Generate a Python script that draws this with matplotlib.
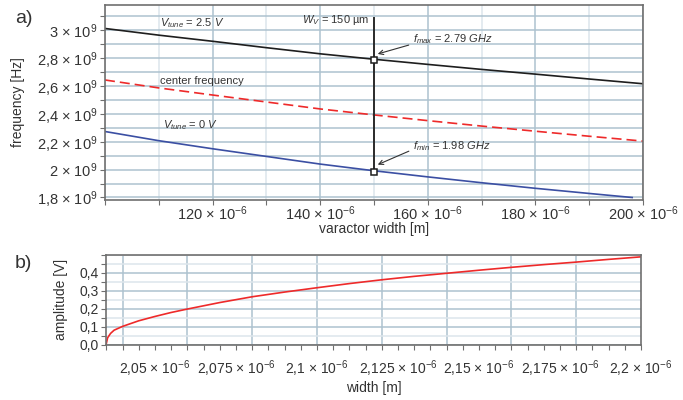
import matplotlib
matplotlib.use("Agg")
import matplotlib.pyplot as plt
from matplotlib.ticker import FixedLocator, FixedFormatter, MultipleLocator

plt.rcParams['font.family'] = ['Liberation Sans', 'DejaVu Sans']
plt.rcParams['mathtext.fontset'] = 'custom'
plt.rcParams['mathtext.rm'] = 'Liberation Sans'
plt.rcParams['mathtext.it'] = 'Liberation Sans:italic'
plt.rcParams['mathtext.bf'] = 'Liberation Sans:bold'

# --- data (a): tuning range vs varactor width, widths in um, freq in GHz
width_um = [100, 110, 120, 130, 140, 150, 160, 170, 180, 190, 200]
f_tune25 = [3.014, 2.966, 2.922, 2.876, 2.832, 2.793, 2.756, 2.720, 2.686, 2.651, 2.617]
f_center = [2.644, 2.587, 2.536, 2.486, 2.436, 2.393, 2.352, 2.313, 2.276, 2.240, 2.205]
width_tune0_um = [100, 110, 120, 130, 140, 150, 160, 170, 180, 190, 198]
f_tune0 = [2.274, 2.208, 2.150, 2.095, 2.040, 1.992, 1.948, 1.906, 1.866, 1.829, 1.800]

wv_um = 150
f_max = 2.79
f_min = 1.98
wv_line_top = 3.09

a_xticks = [120, 140, 160, 180, 200]
a_xlabels = ["120 × 10$^{-6}$", "140 × 10$^{-6}$", "160 × 10$^{-6}$",
             "180 × 10$^{-6}$", "200 × 10$^{-6}$"]
a_yticks = [1.8, 2.0, 2.2, 2.4, 2.6, 2.8, 3.0]
a_ylabels = ["1,8 × 10$^{9}$", "2 × 10$^{9}$", "2,2 × 10$^{9}$", "2,4 × 10$^{9}$",
             "2,6 × 10$^{9}$", "2,8 × 10$^{9}$", "3 × 10$^{9}$"]

# --- data (b): amplitude vs width, width in um
amp_width_um = [2.0349, 2.0354, 2.0363, 2.0374, 2.040, 2.045, 2.050, 2.055, 2.060,
                2.070, 2.080, 2.090, 2.100, 2.110, 2.120, 2.130, 2.140, 2.150,
                2.160, 2.170, 2.180, 2.190, 2.200]
amp_v = [0.0, 0.040, 0.064, 0.082, 0.103, 0.134, 0.158, 0.180, 0.199,
         0.235, 0.267, 0.293, 0.317, 0.340, 0.361, 0.380, 0.397, 0.414,
         0.430, 0.445, 0.459, 0.474, 0.488]

b_xticks = [2.05, 2.075, 2.1, 2.125, 2.15, 2.175, 2.2]
b_xlabels = ["2,05 × 10$^{-6}$", "2,075 × 10$^{-6}$", "2,1 × 10$^{-6}$",
             "2,125 × 10$^{-6}$", "2,15 × 10$^{-6}$", "2,175 × 10$^{-6}$",
             "2,2 × 10$^{-6}$"]
b_gridx = [2.04, 2.06, 2.08, 2.10, 2.12, 2.14, 2.16, 2.18]
b_yticks = [0.0, 0.1, 0.2, 0.3, 0.4]
b_ylabels = ["0,0", "0,1", "0,2", "0,3", "0,4"]

TXT = '#333333'
GRID = '#adc2cf'
GRID_LIGHT = '#dde6ec'
SPINE = '#6f6f6f'


def style_axes(ax, labelsize):
    for s in ax.spines.values():
        s.set_color(SPINE)
        s.set_linewidth(1.2)
    ax.tick_params(which='both', direction='out', colors=SPINE, labelcolor=TXT,
                   length=3.5, width=0.8, labelsize=labelsize)
    ax.set_axisbelow(True)


fig = plt.figure(figsize=(6.83, 4.0), dpi=100)

# ---------------- (a)
ax = fig.add_axes([0.1537, 0.5, 0.7877, 0.488])
style_axes(ax, 10.5)
ax.plot(width_um, f_tune25, color='#1e1e1e', lw=1.2)
ax.plot(width_um, f_center, color='#ee2a2a', lw=1.2, dashes=(6, 3))
ax.plot(width_tune0_um, f_tune0, color='#3b4fa3', lw=1.2)
ax.plot([wv_um, wv_um], [wv_line_top, f_min], color='#2a2a2a', lw=1.4)
ax.plot([wv_um, wv_um], [f_max, f_min], ls='none', marker='s', ms=5,
        mfc='white', mec='#1e1e1e', mew=1.1)

ax.set_xlim(100, 200)
ax.set_ylim(1.782, 3.184)
ax.xaxis.set_major_locator(FixedLocator(a_xticks))
ax.xaxis.set_major_formatter(FixedFormatter(a_xlabels))
ax.xaxis.set_minor_locator(FixedLocator([100, 110, 130, 150, 170, 190]))
ax.yaxis.set_major_locator(FixedLocator(a_yticks))
ax.yaxis.set_major_formatter(FixedFormatter(a_ylabels))
ax.yaxis.set_minor_locator(MultipleLocator(0.1))
ax.tick_params(axis='x', pad=0)
ax.tick_params(axis='y', pad=2)
ax.xaxis.grid(True, which='major', color=GRID, lw=1.1)
ax.xaxis.grid(True, which='minor', color=GRID_LIGHT, lw=1.1)
ax.yaxis.grid(True, which='both', color=GRID, lw=1.1)

ax.set_xlabel("varactor width [m]", fontsize=10, color=TXT)
ax.xaxis.set_label_coords(0.5, -0.112)
ax.set_ylabel("frequency [Hz]", fontsize=10, color=TXT)
ax.yaxis.set_label_coords(-0.148, 0.5)

ax.text(110.2, 3.031, "$V_{tune}$ = 2.5 $V$", fontsize=8, color=TXT, va='baseline')
ax.text(110.2, 2.616, "center frequency", fontsize=8, color=TXT, va='baseline')
ax.text(110.8, 2.299, "$V_{tune}$ = 0 $V$", fontsize=8, color=TXT, va='baseline')
ax.text(149.2, 3.055, "$W_{V}$ = 150 µm", fontsize=8, color=TXT, va='baseline', ha='right')
ax.annotate("$f_{max}$ = 2.79 $GHz$", xy=(150.7, 2.831), xytext=(157.2, 2.912),
            fontsize=8, color=TXT, va='baseline',
            arrowprops=dict(arrowstyle='->', color='#333333', lw=0.8,
                            shrinkA=0, shrinkB=0, relpos=(-0.05, 0.1)))
ax.annotate("$f_{min}$ = 1.98 $GHz$", xy=(150.7, 2.036), xytext=(157.2, 2.150),
            fontsize=8, color=TXT, va='baseline',
            arrowprops=dict(arrowstyle='->', color='#333333', lw=0.8,
                            shrinkA=0, shrinkB=0, relpos=(-0.05, 0.1)))

# ---------------- (b)
bx = fig.add_axes([0.1552, 0.1375, 0.7833, 0.2258])
style_axes(bx, 10)
for gx in b_gridx:
    bx.axvline(gx, color=GRID, lw=1.1, zorder=0)
bx.plot(amp_width_um, amp_v, color='#ee2a2a', lw=1.2)
bx.set_xlim(2.0349, 2.2)
bx.set_ylim(0, 0.5)
bx.xaxis.set_major_locator(FixedLocator(b_xticks))
bx.xaxis.set_major_formatter(FixedFormatter(b_xlabels))
bx.xaxis.set_minor_locator(MultipleLocator(0.005))
bx.yaxis.set_major_locator(FixedLocator(b_yticks))
bx.yaxis.set_major_formatter(FixedFormatter(b_ylabels))
bx.yaxis.set_minor_locator(MultipleLocator(0.05))
bx.tick_params(axis='x', pad=6)
bx.tick_params(axis='y', pad=1.5)
bx.yaxis.grid(True, which='major', color=GRID, lw=1.1)
bx.yaxis.grid(True, which='minor', color=GRID_LIGHT, lw=1.1)

bx.set_xlabel("width [m]", fontsize=10, color=TXT)
bx.xaxis.set_label_coords(0.5, -0.40)
bx.set_ylabel("amplitude [V]", fontsize=10, color=TXT)
bx.yaxis.set_label_coords(-0.071, 0.5)

fig.text(0.022, 0.9425, "a)", fontsize=14, color=TXT, va='baseline')
fig.text(0.022, 0.33, "b)", fontsize=14, color=TXT, va='baseline')

fig.savefig("out.png", dpi=100)
